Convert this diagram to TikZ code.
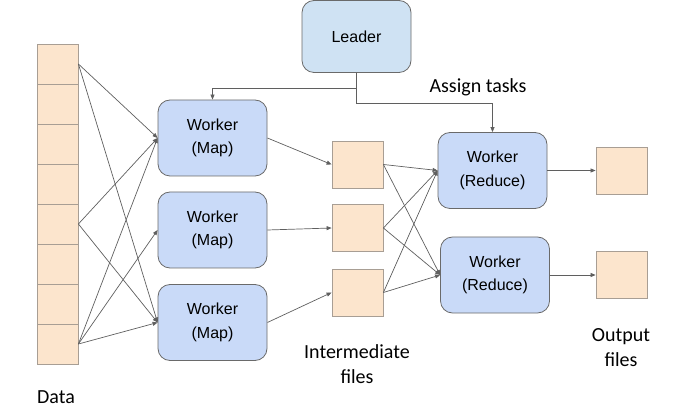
\documentclass[tikz,border=0pt]{standalone}
\usepackage{fontspec}
\newfontfamily\boxfont{Liberation Sans}
\newfontfamily\labelfont{Carlito}
\usetikzlibrary{arrows.meta,calc}
\definecolor{filefill}{HTML}{FCE5CD}
\definecolor{filedraw}{HTML}{A89E94}
\definecolor{workfill}{HTML}{C9DAF8}
\definecolor{leadfill}{HTML}{CFE2F3}
\definecolor{boxdraw}{HTML}{6A6A6A}
\definecolor{linegray}{HTML}{5F5F5F}
\begin{document}
\begin{tikzpicture}[x=1pt,y=-1pt,
  cell/.style={draw=filedraw,fill=filefill,line width=0.8pt,inner sep=0pt,
    minimum width=41pt,minimum height=40pt},
  filebox/.style={cell,minimum width=51pt,minimum height=47pt},
  worker/.style={draw=boxdraw,fill=workfill,line width=0.8pt,rounded corners=12pt,
    minimum width=109pt,minimum height=76pt,align=center,
    font=\boxfont\fontsize{16}{23.5}\selectfont},
  leader/.style={worker,fill=leadfill,minimum height=72pt},
  caption/.style={align=center,inner sep=0pt,
    font=\labelfont\fontsize{20}{25}\selectfont},
  arr/.style={draw=linegray,line width=0.7pt,-{Triangle[length=5pt,width=4pt]}}]
\useasboundingbox (0,0) rectangle (695,419);

\foreach \i in {1,...,8}
  \node (d\i) [cell] at (57.5,24+40*\i) {};
\node (data) [caption] at (56,397) {Data};

\node (leader) [leader] at (356.5,36.5) {Leader};

\node (map1) [worker] at (212.5,138) {Worker\\(Map)};
\node (map2) [worker] at (212.5,230) {Worker\\(Map)};
\node (map3) [worker] at (212.5,322.5) {Worker\\(Map)};

\node (im1) [filebox] at (357.5,164.5) {};
\node (im2) [filebox] at (357.5,228) {};
\node (im3) [filebox] at (357.5,292.5) {};
\node (imlabel) [caption] at (357,364) {Intermediate\\files};

\node (red1) [worker] at (492.5,170.5) {Worker\\(Reduce)};
\node (red2) [worker] at (495,275) {Worker\\(Reduce)};

\node (out1) [filebox] at (621.5,170.5) {};
\node (out2) [filebox] at (621.5,275) {};
\node (outlabel) [caption] at (621,348) {Output\\files};

\draw [arr] (leader.south) -- ++(0,15) -| (map1.north);
\draw [arr] (leader.south) -- ++(0,30) -| (red1.north);
\node (assign) [caption] at (478,87) {Assign tasks};

\foreach \a/\b in {d1/map1,d1/map3,d5/map1,d5/map3,d8/map1,d8/map2,d8/map3}
  \draw [arr] (\a.east) -- (\b.west);
\foreach \n in {1,2,3} {
  \draw [arr] (map\n.east) -- (im\n.west);
  \draw [arr] (im\n.east) -- (red1.west);
  \draw [arr] (im\n.east) -- (red2.west);
}
\draw [arr] (red1.east) -- (out1.west);
\draw [arr] (red2.east) -- (out2.west);
\end{tikzpicture}
\end{document}
